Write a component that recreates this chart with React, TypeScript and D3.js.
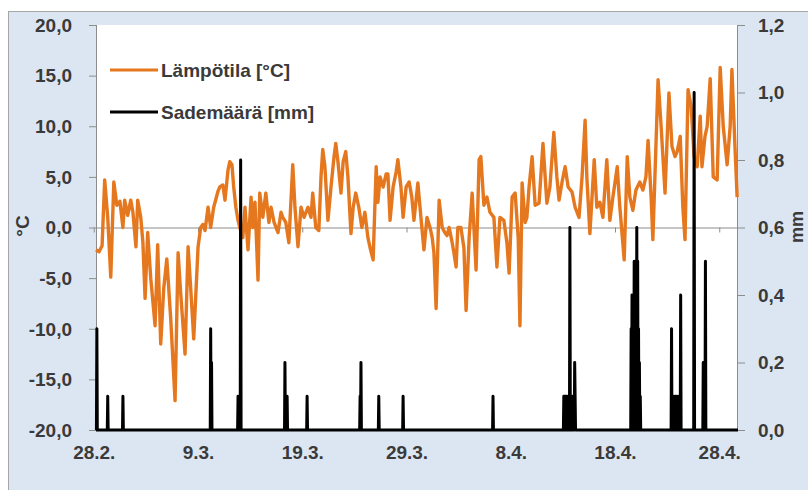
import * as d3 from "d3";

// tuntia alkaen 28.2. klo 00
const tempHour = [
  4, 11, 18, 24, 31, 38, 45, 52, 59, 66, 70, 77, 84, 89, 96, 100, 107, 112, 117, 123,
  130, 140, 146, 153, 160, 167, 176, 186, 193, 199, 209, 216, 222, 229, 239, 245, 250,
  255, 262, 268, 275, 285, 289, 296, 301, 308, 312, 317, 321, 326, 331, 335, 342, 347,
  354, 361, 365, 370, 377, 381, 388, 395, 402, 407, 414, 423, 430, 434, 441, 448, 457,
  462, 469, 476, 483, 492, 499, 503, 510, 517, 522, 526, 531, 538, 545, 552, 556, 561,
  568, 573, 579, 584, 591, 596, 602, 609, 616, 623, 630, 635, 642, 649, 653, 658, 665,
  672, 676, 681, 688, 695, 699, 706, 711, 718, 725, 731, 736, 745, 752, 759, 766, 773,
  778, 782, 787, 794, 801, 807, 812, 817, 824, 828, 833, 837, 844, 851, 856, 863, 870,
  874, 879, 886, 890, 897, 904, 911, 920, 927, 934, 943, 950, 955, 962, 969, 976, 980,
  985, 992, 996, 1001, 1008, 1015, 1024, 1033, 1042, 1049, 1058, 1065, 1070, 1077, 1084,
  1091, 1100, 1107, 1116, 1123, 1130, 1134, 1141, 1151, 1157, 1164, 1171, 1180, 1187,
  1194, 1204, 1210, 1220, 1227, 1233, 1240, 1247, 1256, 1263, 1270, 1275, 1282, 1286,
  1293, 1298, 1305, 1314, 1323, 1330, 1337, 1342, 1349, 1355, 1360, 1367, 1374, 1381,
  1388, 1395, 1399, 1406, 1411, 1418, 1425, 1434, 1441, 1448, 1457, 1464, 1468, 1475, 1480,
];

const tempValue = [
  -2.2, -2.4, -1.8, 4.7, 1.0, -4.9, 4.5, 2.2, 2.6, 0.0, 2.7, 1.2, 2.7, 1.5, -1.9, 2.7, 1.0, -1.5, -7.0, -0.5,
  -5.0, -9.7, -1.7, -11.5, -6.0, -3.1, -9.0, -17.1, -2.5, -6.5, -12.5, -1.9, -6.0, -11.0, -1.9, 0.0, 0.3,
  -0.3, 2.0, 0.0, 2.0, 3.6, 4.0, 4.2, 2.7, 5.7, 6.5, 6.2, 4.0, 2.0, 0.7, 0.0, -1.0, 2.0,
  -2.2, 3.0, 0.0, 2.5, -5.2, 3.4, 1.0, 3.4, 0.5, 2.0, 0.5, -0.5, 1.5, 1.0, 0.5, -1.5, 6.2,
  2.0, -1.9, 2.0, 1.0, 2.0, 1.0, 3.4, 0.0, -0.3, 5.0, 7.7, 6.0, 0.7, 4.0, 7.0, 8.3, 6.5,
  3.4, 6.5, 7.5, 5.0, -0.6, 2.0, 3.4, 2.0, 0.0, 1.5, -1.0, -2.0, -3.2, 6.0, 2.5, 5.0, 4.0,
  5.3, 5.3, 0.7, 4.0, 5.5, 6.7, 4.0, 1.0, 4.0, 4.5, 3.0, 0.7, 4.4, 1.0, -2.2, 1.0, 0.0,
  -1.0, -2.5, -8.0, 2.7, 0.0, -0.5, -0.8, 0.0, -1.5, -2.5, -3.9, 0.0, 0.0, -2.0, -8.2, -1.0, 3.4,
  0.0, -4.2, 6.7, 7.0, 2.2, 3.0, 1.5, 1.0, -3.9, 1.0, 0.7, -1.5, -4.5, 3.0, 3.4, -1.0, -9.7,
  4.4, 0.5, 1.0, 4.0, 7.0, 2.2, 2.4, 8.3, 2.4, 4.0, 9.4, 5.0, 2.7, 4.5, 6.0,
  4.0, 3.5, 2.0, 1.0, 5.0, 10.6, 5.0, -0.6, 6.7, 2.0, 2.5, 1.0, 6.7, 0.7,
  3.0, 6.0, 2.0, -3.2, 7.0, 3.0, 1.7, 3.7, 4.5, 3.7, 5.0, 8.6, 3.0, -1.2,
  8.0, 14.6, 10.0, 3.4, 13.3, 8.0, 7.0, 7.5, 9.0, 2.0, -1.2, 13.6, 12.0, 7.0,
  6.0, 11.0, 6.0, 9.0, 10.0, 14.7, 5.0, 4.7, 15.8, 10.0, 6.2, 10.0, 15.6, 8.0, 3.0,
];

const precipHour = [
  6, 31, 66, 268, 270, 331, 337, 439, 444, 490, 612, 614, 655, 711, 918,
  1081, 1083, 1085, 1087, 1089, 1091, 1095, 1097, 1099, 1101, 1103, 1106, 1107,
  1236, 1238, 1240, 1243, 1246, 1249, 1251, 1253, 1255, 1257,
  1329, 1332, 1335, 1338, 1341, 1344, 1350, 1381, 1402, 1407,
];

const precipValue = [
  0.3, 0.1, 0.1, 0.3, 0.2, 0.1, 0.8, 0.2, 0.1, 0.1, 0.1, 0.2, 0.1, 0.1, 0.1,
  0.1, 0.1, 0.1, 0.1, 0.1, 0.1, 0.6, 0.1, 0.1, 0.1, 0.1, 0.2, 0.1,
  0.3, 0.4, 0.4, 0.5, 0.4, 0.6, 0.5, 0.3, 0.2, 0.1,
  0.3, 0.1, 0.1, 0.1, 0.1, 0.1, 0.4, 1.0, 0.2, 0.5,
];

const tempTicks = [-20, -15, -10, -5, 0, 5, 10, 15, 20];
const precipTicks = [0, 0.2, 0.4, 0.6, 0.8, 1.0, 1.2];
const dateLabels = ["28.2.", "9.3.", "19.3.", "29.3.", "8.4.", "18.4.", "28.4."];
const dateHours = [0, 240, 480, 720, 960, 1200, 1440];

const W = 808;
const H = 490;
const plot = { left: 96, right: 738, top: 25, bottom: 430 };
const orange = "#e5781f";
const textColor = "#3a3a3a";
const axisGrey = "#8c8c8c";
const font = "'Liberation Sans', Arial, sans-serif";

const fmt = (v: number) => v.toFixed(1).replace(".", ",");

export default function App() {
  const x = d3.scaleLinear().domain([4, 1482]).range([plot.left, plot.right]);
  const yT = d3.scaleLinear().domain([-20, 20]).range([plot.bottom, plot.top]);
  const yP = d3.scaleLinear().domain([0, 1.2]).range([plot.bottom, plot.top]);

  const tempPoints = tempHour.map((h, i) => [h, tempValue[i]] as [number, number]);
  const tempLine = d3
    .line<[number, number]>()
    .x((d) => x(d[0]))
    .y((d) => yT(d[1]))(tempPoints);

  // tuntisarja: nolla kun ei sadetta
  const rain = new Map<number, number>();
  precipHour.forEach((h, i) => rain.set(h, precipValue[i]));
  const lastHour = 1482;
  const precipPoints = d3.range(4, lastHour + 1).map((h) => [h, rain.get(h) ?? 0] as [number, number]);
  const precipLine = d3
    .line<[number, number]>()
    .x((d) => x(d[0]))
    .y((d) => yP(d[1]))(precipPoints);

  return (
    <svg
      width={W}
      height={H}
      style={{ position: "absolute", left: 0, top: 0 }}
      fontFamily={font}
    >
      <rect x={0} y={0} width={W} height={H} fill="#ffffff" />
      <rect x={8.5} y={11.5} width={W} height={H} fill="#dce6f2" stroke="#a6a6a6" strokeWidth={1} />
      <rect
        x={plot.left}
        y={plot.top}
        width={plot.right - plot.left}
        height={plot.bottom - plot.top}
        fill="#ffffff"
      />

      {/* vasen akseli */}
      <line x1={plot.left + 0.5} x2={plot.left + 0.5} y1={plot.top} y2={plot.bottom} stroke={axisGrey} />
      {tempTicks.map((t) => (
        <g key={"lt" + t}>
          <line x1={plot.left - 7} x2={plot.left} y1={yT(t) + 0.5} y2={yT(t) + 0.5} stroke={axisGrey} />
          <text
            x={72}
            y={yT(t)}
            dy="0.36em"
            textAnchor="end"
            fontSize={19}
            fontWeight="bold"
            fill={textColor}
          >
            {fmt(t)}
          </text>
        </g>
      ))}

      {/* oikea akseli */}
      <line x1={plot.right - 0.5} x2={plot.right - 0.5} y1={plot.top} y2={plot.bottom} stroke={axisGrey} />
      {precipTicks.map((p) => (
        <g key={"rt" + p}>
          <line x1={plot.right} x2={plot.right + 7} y1={yP(p) + 0.5} y2={yP(p) + 0.5} stroke={axisGrey} />
          <text x={758} y={yP(p)} dy="0.36em" fontSize={19} fontWeight="bold" fill={textColor}>
            {fmt(p)}
          </text>
        </g>
      ))}

      {/* vaaka-akseli nollassa */}
      <line x1={plot.left} x2={plot.right} y1={yT(0) + 0.5} y2={yT(0) + 0.5} stroke={axisGrey} />
      {dateHours.map((h) => (
        <line key={"xt" + h} x1={x(h)} x2={x(h)} y1={yT(0)} y2={yT(0) + 5} stroke={axisGrey} />
      ))}
      {dateLabels.map((lab, i) => (
        <text
          key={lab}
          x={x(dateHours[i])}
          y={459}
          textAnchor="middle"
          fontSize={19}
          fontWeight="bold"
          fill={textColor}
        >
          {lab}
        </text>
      ))}

      {/* akselien otsikot */}
      <text
        transform="translate(22,226) rotate(-90)"
        textAnchor="middle"
        dy="0.36em"
        fontSize={19}
        fontWeight="bold"
        fill={textColor}
      >
        °C
      </text>
      <text
        transform="translate(797,227) rotate(-90)"
        textAnchor="middle"
        dy="0.36em"
        fontSize={18}
        fontWeight="bold"
        fill={textColor}
      >
        mm
      </text>

      {/* sarjat */}
      <path d={tempLine ?? ""} fill="none" stroke={orange} strokeWidth={3.4} strokeLinejoin="round" />
      <path d={precipLine ?? ""} fill="none" stroke="#000000" strokeWidth={3} strokeLinejoin="round" />

      {/* selite */}
      <line x1={110} x2={158} y1={70} y2={70} stroke={orange} strokeWidth={3} />
      <text x={161} y={77} fontSize={19} fontWeight="bold" fill={textColor}>
        Lämpötila [°C]
      </text>
      <line x1={110} x2={158} y1={112} y2={112} stroke="#000000" strokeWidth={3} />
      <text x={161} y={119} fontSize={19} fontWeight="bold" fill={textColor}>
        Sademäärä [mm]
      </text>
    </svg>
  );
}
